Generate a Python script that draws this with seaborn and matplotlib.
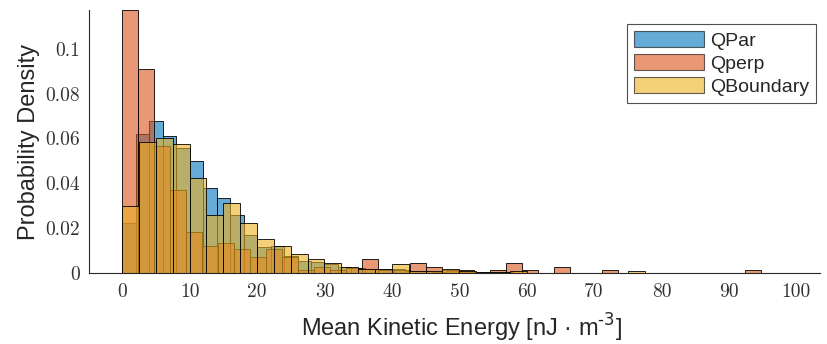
import numpy as np
import pandas as pd
import matplotlib
matplotlib.use('Agg')
import matplotlib.pyplot as plt
from matplotlib.patches import Patch
import seaborn as sns

sns.set_theme(style='white')
plt.rcParams['font.family'] = ['Liberation Sans', 'DejaVu Sans']

# ---- data (probability density per bin) ----
series_names = ['QPar', 'Qperp', 'QBoundary']
bin_widths = [2.0, 2.37, 2.5]

qpar_density = [0.0225, 0.062, 0.068, 0.061, 0.056, 0.050, 0.038, 0.0334, 0.026, 0.017,
                0.0116, 0.0123, 0.0075, 0.0055, 0.0052, 0.004, 0.003, 0.0025, 0.0018, 0.0018,
                0.0018, 0.0012, 0.0012, 0.0007, 0.0012, 0.0007, 0.0007, 0.0007, 0.0007, 0.0003,
                0.0003, 0.0, 0.0, 0.0003, 0.0003, 0.0, 0.0, 0.0, 0.0003, 0.0003,
                0.0, 0.0, 0.0, 0.0003, 0.0003, 0.0, 0.0, 0.0, 0.0, 0.0003]
qperp_density = [0.1172, 0.0908, 0.0568, 0.037, 0.0185, 0.0123, 0.0136, 0.0107, 0.0074, 0.0107,
                 0.0074, 0.0015, 0.003, 0.0015, 0.0025, 0.0062, 0.0015, 0.0015, 0.0047, 0.003,
                 0.0015, 0.0015, 0.0, 0.0015, 0.0047, 0.0015, 0.0, 0.003, 0.0, 0.0,
                 0.0015, 0.0, 0.0, 0.0, 0.0, 0.0, 0.0, 0.0, 0.0, 0.0015]
qboundary_density = [0.030, 0.0586, 0.0601, 0.0574, 0.0426, 0.026, 0.0312, 0.0225, 0.0151, 0.0123,
                     0.0085, 0.0064, 0.0045, 0.003, 0.0018, 0.0018, 0.004, 0.0012, 0.0012, 0.0018,
                     0.0012, 0.0007, 0.0007, 0.0012, 0.0003, 0.0003, 0.0, 0.0003, 0.0, 0.0,
                     0.001, 0.0, 0.0, 0.0, 0.0003, 0.0003, 0.0, 0.0, 0.0, 0.0003]
densities = [qpar_density, qperp_density, qboundary_density]
colors = ['#0072BD', '#D95319', '#EDB120']

xticks = [0, 10, 20, 30, 40, 50, 60, 70, 80, 90, 100]
yticks = [0, 0.02, 0.04, 0.06, 0.08, 0.1]
ytick_labels = ['0', '0.02', '0.04', '0.06', '0.08', '0.1']

# ---- figure ----
fig = plt.figure(figsize=(8.28, 3.44), dpi=100)
ax = fig.add_axes([0.1069, 0.2055, 0.8834, 0.7654])

for name, w, dens, c in zip(series_names, bin_widths, densities, colors):
    edges = [i * w for i in range(len(dens) + 1)]
    df = pd.DataFrame({'x': [e + w / 2 for e in edges[:-1]], 'density': dens})
    sns.histplot(data=df, x='x', weights='density', bins=edges, stat='count', color=c,
                 alpha=0.6, edgecolor='black', linewidth=0.6, ax=ax)

ax.set_xlim(-5, 103.5)
ax.set_ylim(0, max(qperp_density))
ax.set_xticks(xticks)
ax.set_xticklabels([str(t) for t in xticks])
ax.set_yticks(yticks)
ax.set_yticklabels(ytick_labels)
for lab in ax.get_xticklabels() + ax.get_yticklabels():
    lab.set_fontfamily('cmr10')
    lab.set_fontsize(14)
    lab.set_color('#333333')
ax.tick_params(direction='in', length=5.5, width=0.7, color='#262626', pad=6)
ax.tick_params(axis='x', pad=7)

for side in ['top', 'right']:
    ax.spines[side].set_visible(False)
for side in ['left', 'bottom']:
    ax.spines[side].set_color('#262626')
    ax.spines[side].set_linewidth(0.8)

ax.set_xlabel('Mean Kinetic Energy [nJ · m$^{\\text{-3}}$]', fontsize=17, color='#262626')
ax.xaxis.set_label_coords(0.51, -0.148, transform=ax.transAxes)
ax.xaxis.label.set_verticalalignment('top')
ax.set_ylabel('Probability Density', fontsize=17, color='#262626', labelpad=4)

handles = [Patch(facecolor=c, alpha=0.6, edgecolor='black', linewidth=0.8) for c in colors]
leg = ax.legend(handles, series_names, loc='upper right', bbox_to_anchor=(0.9946, 0.9468),
                borderaxespad=0, fontsize=14, frameon=True, fancybox=False,
                handlelength=3.6, handleheight=0.9, handletextpad=0.3,
                labelspacing=0.22, borderpad=0.35)
leg.get_frame().set_edgecolor('#262626')
leg.get_frame().set_linewidth(0.8)

fig.savefig('out.png', dpi=100)
